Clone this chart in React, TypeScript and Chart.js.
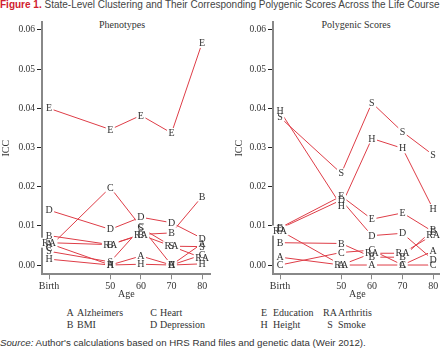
import React, { useEffect, useRef } from "react";
import { Chart, registerables } from "chart.js";
Chart.register(...registerables);

// ---- data ----
const ages = [30, 50, 60, 70, 80]; // "Birth" plotted at 30
const ageTickLabels = ["Birth", "50", "60", "70", "80"];
const iccTicks = [0, 0.01, 0.02, 0.03, 0.04, 0.05, 0.06];
const seriesCodes = ["A", "B", "C", "D", "E", "H", "RA", "S"];

const phenoA = [0.0055, 0.0, 0.0023, 0.0, 0.0055];
const phenoB = [0.0075, 0.0052, 0.0078, 0.0082, 0.0175];
const phenoC = [0.0045, 0.0198, 0.0098, 0.0, 0.0026];
const phenoD = [0.014, 0.0091, 0.0122, 0.0108, 0.0068];
const phenoE = [0.04, 0.0346, 0.0382, 0.0337, 0.0567];
const phenoH = [0.0015, 0.0, 0.0002, 0.0, 0.0003];
const phenoRA = [0.0057, 0.0052, 0.0077, 0.0048, 0.0018];
const phenoS = [0.0035, 0.0008, 0.0095, 0.0048, 0.0047];

const polyA = [0.002, 0.0, 0.0, 0.0, 0.0036];
const polyB = [0.0057, 0.0055, 0.002, 0.002, 0.009];
const polyC = [0.0, 0.0032, 0.0038, 0.0, 0.0];
const polyD = [0.0093, 0.0166, 0.0075, 0.0081, 0.0013];
const polyE = [0.0095, 0.0176, 0.0117, 0.0133, 0.0085];
const polyH = [0.0393, 0.0151, 0.0323, 0.0298, 0.0143];
const polyRA = [0.0088, 0.0, 0.003, 0.003, 0.0077];
const polyS = [0.0377, 0.0234, 0.0414, 0.034, 0.0281];

const phenoSeries = [phenoA, phenoB, phenoC, phenoD, phenoE, phenoH, phenoRA, phenoS];
const polySeries = [polyA, polyB, polyC, polyD, polyE, polyH, polyRA, polyS];

const legendLeft = [
  ["A", "Alzheimers"],
  ["C", "Heart"],
  ["B", "BMI"],
  ["D", "Depression"],
];
const legendRight = [
  ["E", "Education"],
  ["RA", "Arthritis"],
  ["H", "Height"],
  ["S", "Smoke"],
];

const SERIF = "'Liberation Serif', 'Times New Roman', serif";
const SANS = "'Liberation Sans', Arial, sans-serif";
const LINE_RED = "#de3d47";
const TEXT = "#333";

const labelPlugin = {
  id: "letterLabels",
  afterDatasetsDraw(chart: any) {
    const ctx = chart.ctx;
    ctx.save();
    ctx.font = `10px ${SERIF}`;
    const items: { x: number; y: number; t: string }[] = [];
    chart.data.datasets.forEach((ds: any, i: number) => {
      const meta = chart.getDatasetMeta(i);
      meta.data.forEach((pt: any) => items.push({ x: pt.x, y: pt.y, t: ds.label }));
    });
    ctx.fillStyle = "#fff";
    items.forEach((it) => {
      const w = ctx.measureText(it.t).width + 3;
      ctx.fillRect(it.x - w / 2, it.y - 5, w, 10);
    });
    ctx.fillStyle = TEXT;
    ctx.textAlign = "center";
    ctx.textBaseline = "middle";
    items.forEach((it) => ctx.fillText(it.t, it.x, it.y + 0.5));
    ctx.restore();
  },
};

function makeConfig(series: number[][], padLeft: number, axisWidth: number): any {
  return {
    type: "line",
    data: {
      datasets: series.map((arr, i) => ({
        label: seriesCodes[i],
        data: ages.map((a, j) => ({ x: a, y: arr[j] })),
        borderColor: LINE_RED,
        borderWidth: 1,
        pointRadius: 0,
        fill: false,
        tension: 0,
      })),
    },
    options: {
      animation: false,
      responsive: false,
      maintainAspectRatio: false,
      layout: { padding: { top: 22, right: 9.3, left: padLeft, bottom: 0 } },
      plugins: {
        legend: { display: false },
        tooltip: { enabled: false },
        title: { display: false },
      },
      scales: {
        x: {
          type: "linear",
          min: 27.7,
          max: 82.8,
          afterBuildTicks: (s: any) => {
            s.ticks = ages.map((v) => ({ value: v }));
          },
          afterFit: (s: any) => {
            s.height = 25.7;
          },
          ticks: {
            callback: (_v: any, idx: number) => ageTickLabels[idx],
            font: { family: SERIF, size: 10 },
            color: TEXT,
            padding: 1,
            maxRotation: 0,
            autoSkip: false,
          },
          grid: { drawOnChartArea: false, drawTicks: true, tickLength: 5, color: "#888", lineWidth: 1 },
          border: { display: true, color: "#888", width: 2 },
          title: {
            display: true,
            text: "Age",
            font: { family: SERIF, size: 10 },
            color: TEXT,
            padding: { top: 0, bottom: 0 },
          },
        },
        y: {
          type: "linear",
          min: -0.00237,
          max: 0.06204,
          afterBuildTicks: (s: any) => {
            s.ticks = iccTicks.map((v) => ({ value: v }));
          },
          afterFit: (s: any) => {
            s.width = axisWidth;
          },
          ticks: {
            callback: (v: any) => Number(v).toFixed(2),
            font: { family: SERIF, size: 9.5 },
            color: TEXT,
            padding: 2,
          },
          grid: { drawOnChartArea: false, drawTicks: true, tickLength: 5, color: "#222", lineWidth: 1 },
          border: { display: true, color: "#888", width: 2 },
          title: {
            display: true,
            text: "ICC",
            font: { family: SERIF, size: 10 },
            color: TEXT,
            padding: { top: 0, bottom: 0 },
          },
        },
      },
    },
    plugins: [labelPlugin],
  };
}

function Panel({ series, left, padLeft, axisWidth }: any) {
  const ref = useRef<HTMLCanvasElement | null>(null);
  useEffect(() => {
    if (!ref.current) return;
    const chart = new Chart(ref.current, makeConfig(series, padLeft, axisWidth));
    return () => chart.destroy();
  }, []);
  return (
    <canvas
      ref={ref}
      width={220}
      height={300}
      style={{ position: "absolute", left, top: 0, width: 220, height: 300 }}
    />
  );
}

function LegendBlock({ items, codeX, textX }: any) {
  const rows = [313.5, 325];
  return (
    <>
      {items.map(([code, name]: string[], i: number) => {
        const row = Math.floor(i / 2);
        const col = i % 2;
        const top = rows[row] - 6.5;
        return (
          <React.Fragment key={code}>
            <span
              style={{
                position: "absolute",
                left: codeX[col] - 15,
                width: 30,
                textAlign: "center",
                top,
                font: `10px ${SERIF}`,
                lineHeight: "12px",
                color: TEXT,
                whiteSpace: "nowrap",
              }}
            >
              {code}
            </span>
            <span
              style={{
                position: "absolute",
                left: textX[col],
                top,
                font: `10px ${SERIF}`,
                lineHeight: "12px",
                color: TEXT,
                whiteSpace: "nowrap",
              }}
            >
              {name}
            </span>
          </React.Fragment>
        );
      })}
    </>
  );
}

export default function App() {
  return (
    <div
      style={{
        position: "absolute",
        left: 0,
        top: 0,
        width: 440,
        height: 350,
        background: "#fff",
        overflow: "hidden",
      }}
    >
      <div
        style={{
          position: "absolute",
          left: 0,
          top: -1.5,
          font: `10px ${SANS}`,
          lineHeight: "11px",
          color: "#444",
          whiteSpace: "nowrap",
        }}
      >
        <span style={{ color: "#d0202e", fontWeight: "bold" }}>Figure 1.</span> State-Level Clustering and Their
        Corresponding Polygenic Scores Across the Life Course
      </div>

      <div
        style={{
          position: "absolute",
          left: 72,
          width: 100,
          textAlign: "center",
          top: 19,
          font: `10px ${SERIF}`,
          lineHeight: "12px",
          color: TEXT,
        }}
      >
        Phenotypes
      </div>
      <div
        style={{
          position: "absolute",
          left: 306,
          width: 100,
          textAlign: "center",
          top: 19,
          font: `10px ${SERIF}`,
          lineHeight: "12px",
          color: TEXT,
          whiteSpace: "nowrap",
        }}
      >
        Polygenic Scores
      </div>

      <Panel series={phenoSeries} left={0} padLeft={0} axisWidth={42} />
      <Panel series={polySeries} left={231} padLeft={2} axisWidth={40} />

      <LegendBlock items={legendLeft} codeX={[70, 153.5]} textX={[77, 160]} />
      <LegendBlock items={legendRight} codeX={[264, 330]} textX={[273, 338]} />

      <div
        style={{
          position: "absolute",
          left: 0,
          top: 336.8,
          font: `9.7px ${SANS}`,
          lineHeight: "11px",
          color: "#333",
          whiteSpace: "nowrap",
        }}
      >
        <span style={{ fontStyle: "italic" }}>Source:</span> Author's calculations based on HRS Rand files and
        genetic data (Weir 2012).
      </div>
    </div>
  );
}
